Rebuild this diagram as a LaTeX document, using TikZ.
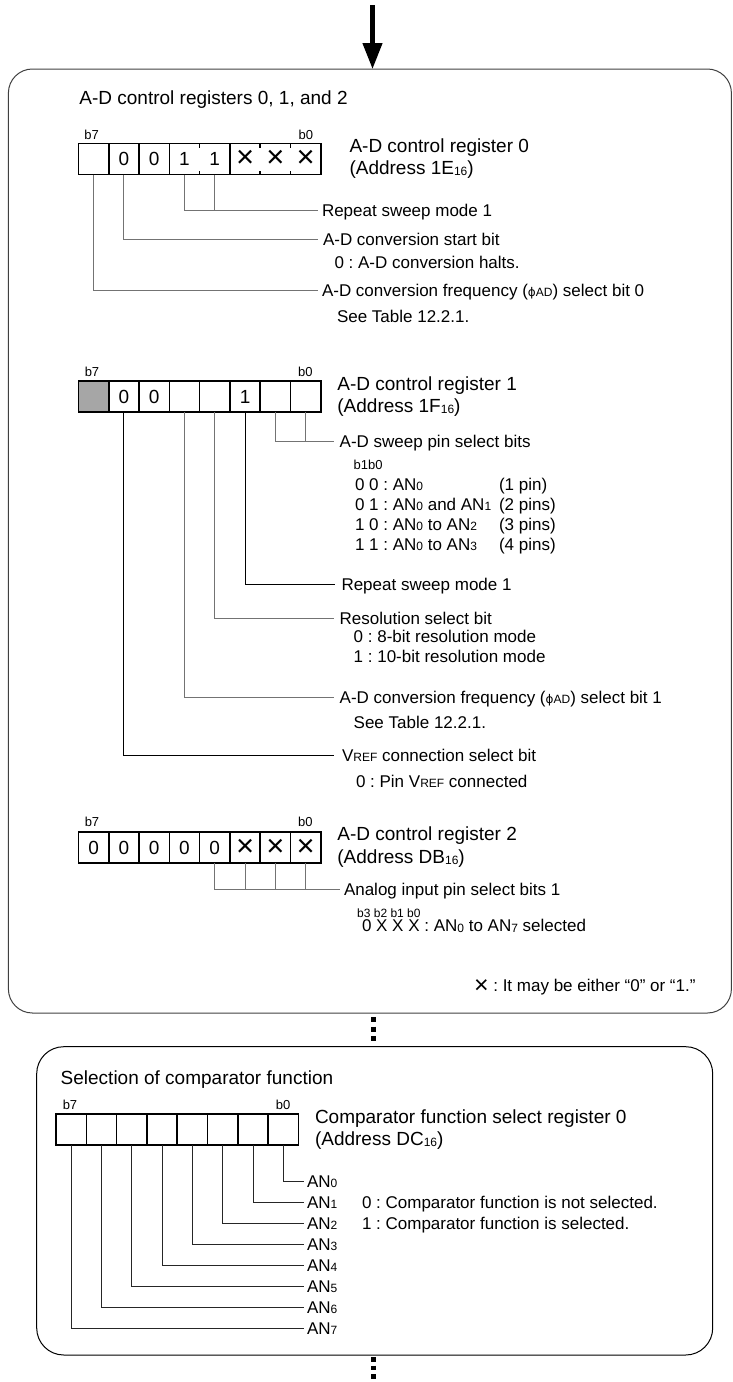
\documentclass[tikz,border=0pt]{standalone}
\usepackage{fontspec}
\setmainfont{Liberation Sans}
\newfontfamily\dejavu{DejaVu Sans}
\usetikzlibrary{arrows.meta}
\frenchspacing
\newcommand{\fA}{\fontsize{19}{21}\selectfont}
\newcommand{\fB}{\fontsize{17}{19}\selectfont}
\newcommand{\fC}{\fontsize{13}{14}\selectfont}
\newcommand{\fS}{\fontsize{12}{12}\selectfont}
\newcommand{\lowsub}[1]{\raisebox{-0.8pt}{\fS #1}}
\newcommand{\regX}{{\fontsize{31}{31}\selectfont ×}}
\newcommand{\phiAD}{{\fS{\dejavu ϕ}AD}}
\newcommand{\vref}{V{\fS REF}}
\begin{document}
\begin{tikzpicture}[x=1pt,y=-1pt,
  lbA/.style={anchor=west,inner sep=0pt,outer sep=0pt,font=\fA,text height=13.6pt,text depth=0pt},
  lbB/.style={anchor=west,inner sep=0pt,outer sep=0pt,font=\fB,text height=12.2pt,text depth=0pt},
  bitlbl/.style={inner sep=0pt,outer sep=0pt,font=\fC,text height=9.5pt,text depth=0pt},
  cell/.style={minimum width=30.3pt,minimum height=31pt,inner sep=0pt,outer sep=0pt,font=\fontsize{19}{19}\selectfont},
  regline/.style={line width=1.6pt,black},
  leadk/.style={line width=0.8pt,black},
  leadg/.style={line width=0.8pt,black!55},
  dotline/.style={line width=5pt,black,dash pattern=on 5pt off 4.5pt}]
\useasboundingbox (0,0) rectangle (733,1382);

% ---------- frames ----------
\node[draw=black!75,line width=1pt,rounded corners=24pt,minimum width=723pt,minimum height=944pt,
      anchor=north west,inner sep=0pt,outer sep=0pt] (bigbox) at (8.4,69) {};
\node[draw=black,line width=1pt,rounded corners=27pt,minimum width=676pt,minimum height=308.3pt,
      anchor=north west,inner sep=0pt,outer sep=0pt] (compbox) at (36.7,1046.7) {};

% arrow into the first frame
\coordinate (arrtop) at (372.5,5);
\draw[line width=4.5pt,-{Triangle[length=26pt,width=19pt]}] (arrtop) -- (arrtop |- bigbox.north);

% dots between frames
\coordinate (dotsA) at (373,1017);
\coordinate (dotsB) at (373,1042);
\draw[dotline] (dotsA) -- (dotsB);
\coordinate (dotsC) at (373,1357);
\coordinate (dotsD) at (373,1382);
\draw[dotline,dash pattern=on 4.5pt off 4pt] (dotsC) -- (dotsD);

% ---------- title ----------
\node[lbA] (title1) at (79.4,98) {A-D control registers 0, 1, and 2};

% ---------- A-D control register 0 ----------
\foreach \i/\t in {1/{},2/0,3/0,4/1,5/1,6/\regX,7/\regX,8/\regX}
  \node[cell] (r0c\i) at ({78.4+30.3*(\i-0.5)},159) {\t};
\draw[regline] (r0c1.north west) rectangle (r0c8.south east);
\foreach \i in {1,2,3,5}
  \draw[regline] (r0c\i.north east) -- (r0c\i.south east);
\foreach \i in {4,6,7}{
  \draw[regline] (r0c\i.north east) -- ++(0,4);
  \draw[regline] (r0c\i.south east) -- ++(0,-4);}
\node[bitlbl] (r0b7) at (91.7,134.5) {b7};
\node[bitlbl] (r0b0) at (305.8,134.5) {b0};
\node[lbA] (r0name) at (349.5,145.5) {A-D control register 0};
\node[lbA] (r0addr) at (349.5,168) {(Address 1E\lowsub{16})};

\node[lbB] (l01) at (322,210.5) {Repeat sweep mode 1};
\draw[leadg] (r0c4.south) |- ([xshift=-4pt]l01.west);
\draw[leadg] (r0c5.south) -- (r0c5.south |- l01.west);
\node[lbB] (l02) at (323,239.5) {A-D conversion start bit};
\node[lbB] (l02a) at (334.5,262) {0 : A-D conversion halts.};
\draw[leadg] (r0c2.south) |- ([xshift=-5pt]l02.west);
\node[lbB] (l03) at (322,290.5) {A-D conversion frequency (\phiAD) select bit 0};
\node[lbB] (l03a) at (337,316) {See Table 12.2.1.};
\draw[leadg] (r0c1.south) |- ([xshift=-4pt]l03.west);

% ---------- A-D control register 1 ----------
\node[cell,fill=black!35] (r1c1) at ({78.4+30.3*0.5},396.5) {};
\foreach \i/\t in {2/0,3/0,4/{},5/{},6/1,7/{},8/{}}
  \node[cell] (r1c\i) at ({78.4+30.3*(\i-0.5)},396.5) {\t};
\draw[regline] (r1c1.north west) rectangle (r1c8.south east);
\foreach \i in {1,...,7}
  \draw[regline] (r1c\i.north east) -- (r1c\i.south east);
\node[bitlbl] (r1b7) at (92,371.5) {b7};
\node[bitlbl] (r1b0) at (305.3,371.5) {b0};
\node[lbA] (r1name) at (337.4,383.5) {A-D control register 1};
\node[lbA] (r1addr) at (337.4,406) {(Address 1F\lowsub{16})};

\node[lbB] (l11) at (339.7,441) {A-D sweep pin select bits};
\draw[leadg] (r1c7.south) |- ([xshift=-6pt]l11.west);
\draw[leadg] (r1c8.south) -- (r1c8.south |- l11.west);
\node[bitlbl,anchor=west] (l11h) at (353.7,465) {b1b0};
\node[lbB] (l11a) at (355,484) {0 0 : AN\lowsub{0}};
\node[lbB] (l11ap) at (499,484) {(1 pin)};
\node[lbB] (l11b) at (355,504) {0 1 : AN\lowsub{0} and AN\lowsub{1}};
\node[lbB] (l11bp) at (499,504) {(2 pins)};
\node[lbB] (l11c) at (355,524) {1 0 : AN\lowsub{0} to AN\lowsub{2}};
\node[lbB] (l11cp) at (499,524) {(3 pins)};
\node[lbB] (l11d) at (355,544) {1 1 : AN\lowsub{0} to AN\lowsub{3}};
\node[lbB] (l11dp) at (499,544) {(4 pins)};

\node[lbB] (l12) at (341.5,584) {Repeat sweep mode 1};
\draw[leadk] (r1c6.south) |- ([xshift=-7pt]l12.west);
\node[lbB] (l13) at (339.7,618) {Resolution select bit};
\node[lbB] (l13a) at (353.7,636.5) {0 : 8-bit resolution mode};
\node[lbB] (l13b) at (353.7,656) {1 : 10-bit resolution mode};
\draw[leadg] (r1c5.south) |- ([xshift=-5.5pt]l13.west);
\node[lbB] (l14) at (339.7,697.8) {A-D conversion frequency (\phiAD) select bit 1};
\node[lbB] (l14a) at (353.7,722.7) {See Table 12.2.1.};
\draw[leadg] (r1c4.south) |- ([xshift=-5.5pt]l14.west);
\node[lbB] (l15) at (342,755.5) {\vref{} connection select bit};
\node[lbB] (l15a) at (356,781.7) {0 : Pin \vref{} connected};
\draw[leadk] (r1c2.south) |- ([xshift=-8pt]l15.west);

% ---------- A-D control register 2 ----------
\foreach \i/\t in {1/0,2/0,3/0,4/0,5/0,6/\regX,7/\regX,8/\regX}
  \node[cell] (r2c\i) at ({78.4+30.3*(\i-0.5)},847.5) {\t};
\draw[regline] (r2c1.north west) rectangle (r2c8.south east);
\foreach \i in {1,...,7}
  \draw[regline] (r2c\i.north east) -- (r2c\i.south east);
\node[bitlbl] (r2b7) at (92,822) {b7};
\node[bitlbl] (r2b0) at (305.3,822) {b0};
\node[lbA] (r2name) at (337.4,834) {A-D control register 2};
\node[lbA] (r2addr) at (337.4,857) {(Address DB\lowsub{16})};

\node[lbB] (l21) at (344,889) {Analog input pin select bits 1};
\draw[leadg] (r2c5.south) |- ([xshift=-4pt]l21.west);
\foreach \i in {6,7,8}
  \draw[leadg] (r2c\i.south) -- (r2c\i.south |- l21.west);
\node[inner sep=0pt,anchor=west,font=\fS,text height=8.7pt,text depth=0pt] (l21h) at (357,913) {b3 b2 b1 b0};
\node[lbB] (l21a) at (362,925.5) {0 X X X : AN\lowsub{0} to AN\lowsub{7} selected};

\node[lbB] (foot) at (474,985) {\raisebox{-2pt}{\fontsize{25}{25}\selectfont ×} : It may be either “0” or “1.”};

% ---------- Comparator function select register 0 ----------
\node[lbA] (title2) at (60.7,1078) {Selection of comparator function};
\foreach \i in {1,...,8}
  \node[cell] (cc\i) at ({56+30.3*(\i-0.5)},1129.5) {};
\draw[regline] (cc1.north west) rectangle (cc8.south east);
\foreach \i in {1,...,7}
  \draw[regline] (cc\i.north east) -- (cc\i.south east);
\node[bitlbl] (ccb7) at (70,1105) {b7};
\node[bitlbl] (ccb0) at (283,1105) {b0};
\node[lbA] (ccname) at (315,1116.5) {Comparator function select register 0};
\node[lbA] (ccaddr) at (315,1138.5) {(Address DC\lowsub{16})};

\foreach \j [evaluate=\j as \k using {int(8-\j)}] in {0,...,7}{
  \node[lbB] (an\j) at (307,{1181+21*\j}) {AN\lowsub{\j}};
  \draw[leadk,black!85] (cc\k.south) |- ([xshift=-3.5pt]an\j.west);}
\node[lbB] (ccs0) at (362,1202) {0 : Comparator function is not selected.};
\node[lbB] (ccs1) at (362,1223) {1 : Comparator function is selected.};
\end{tikzpicture}
\end{document}
